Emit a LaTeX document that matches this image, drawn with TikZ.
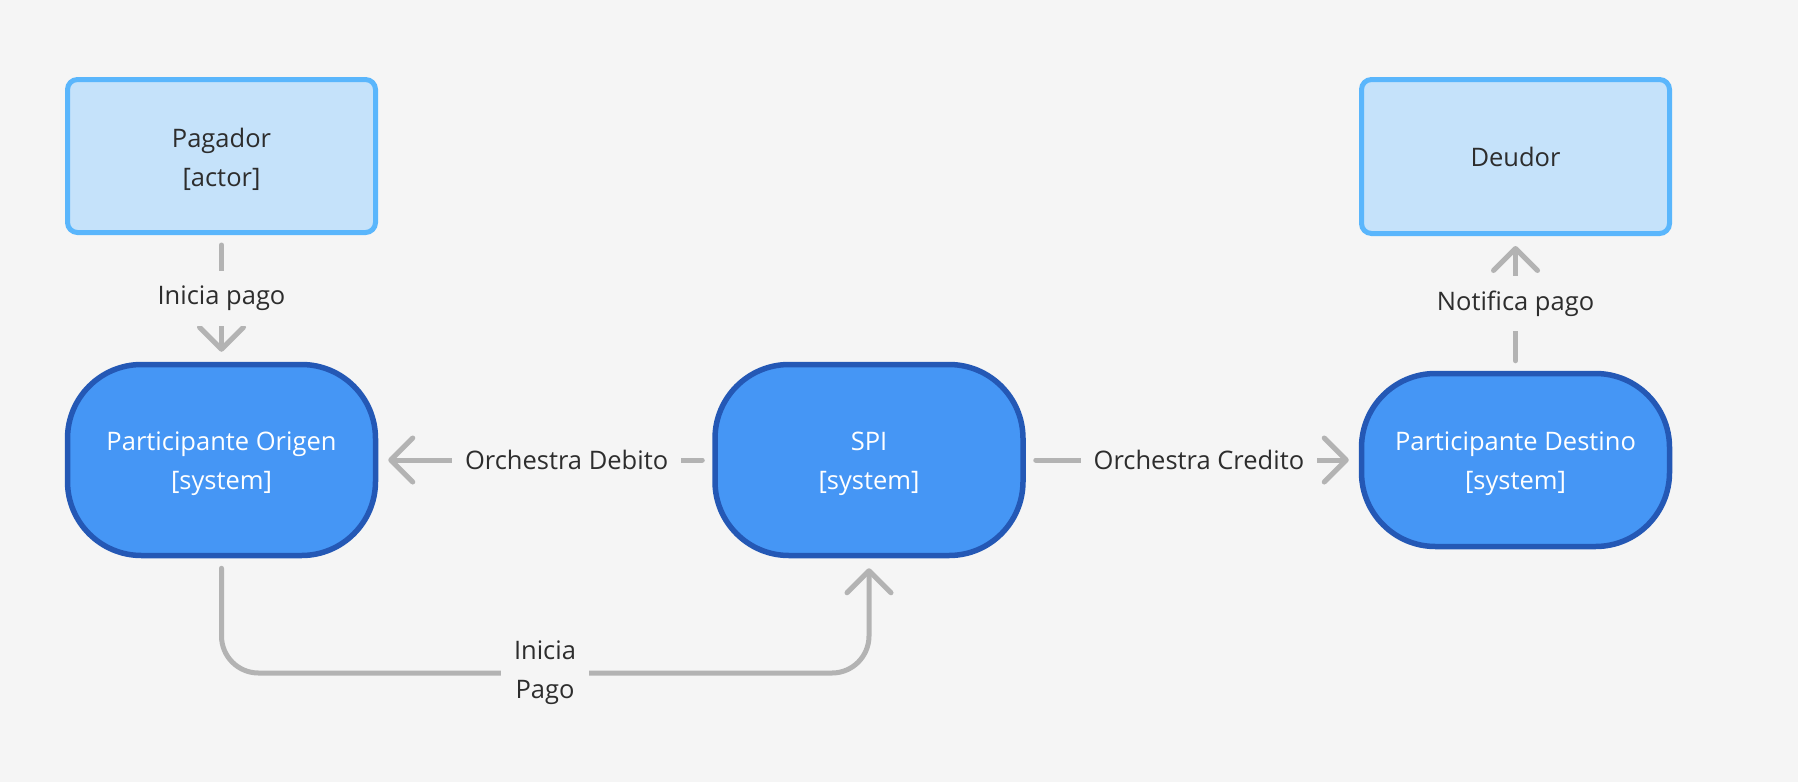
\documentclass[tikz,border=0pt]{standalone}
\usepackage{fontspec}
\setmainfont{Open Sans}
\usetikzlibrary{arrows.meta}
\definecolor{bgc}{HTML}{F5F5F5}
\definecolor{lightfill}{HTML}{C5E2FA}
\definecolor{lightborder}{HTML}{5AB6FC}
\definecolor{darkfill}{HTML}{4596F5}
\definecolor{darkborder}{HTML}{2458B5}
\definecolor{linec}{HTML}{B3B3B3}
\definecolor{txt}{HTML}{2D2D2D}
\newcommand{\mytopstrut}{\rule{0pt}{27pt}}
\begin{document}
\begin{tikzpicture}[x=1pt,y=-1pt,
  basefont/.style={font=\fontsize{25.5}{39}\selectfont},
  actorbox/.style={basefont, draw=lightborder, fill=lightfill, line width=5pt, rounded corners=10pt, text=txt, minimum width=308pt, align=center},
  sysbox/.style={basefont, draw=darkborder, fill=darkfill, line width=5.5pt, rounded corners=74pt, text=white, minimum width=308pt, align=center},
  conn/.style={draw=linec, line width=5pt, line cap=round, shorten >=10pt, shorten <=10pt, -{Straight Barb[length=22pt,width=44pt,round]}},
  lbl/.style={basefont, fill=bgc, text=txt, inner xsep=13pt, inner ysep=15pt, align=center}
]
\useasboundingbox[fill=bgc] (0,0) rectangle (1798,782);
\node[actorbox, minimum height=153pt] (pag) at (221.5,156) {\mytopstrut Pagador\\{}[actor]};
\node[actorbox, minimum height=154pt] (deu) at (1515.5,156.5) {Deudor};
\node[sysbox, minimum height=191pt] (orig) at (221.5,460) {\mytopstrut Participante Origen\\{}[system]};
\node[sysbox, minimum height=191pt] (spi) at (869,460) {\mytopstrut SPI\\{}[system]};
\node[sysbox, minimum height=173pt] (dest) at (1515.5,460) {\mytopstrut Participante Destino\\{}[system]};
\coordinate (bot) at (545,673);
\draw[conn] (pag) -- node[lbl]{Inicia pago} (orig);
\draw[conn] (dest) -- node[lbl]{Notifica pago} (deu);
\draw[conn] (spi) -- node[lbl, pos=0.436]{Orchestra Debito} (orig);
\draw[conn] (spi) -- node[lbl, pos=0.52]{Orchestra Credito} (dest);
\draw[conn, rounded corners=37pt] (orig.south) |- (bot) -| (spi.south);
\node[lbl, inner ysep=4pt] (botlbl) at (bot) {Inicia\\Pago};
\end{tikzpicture}
\end{document}
